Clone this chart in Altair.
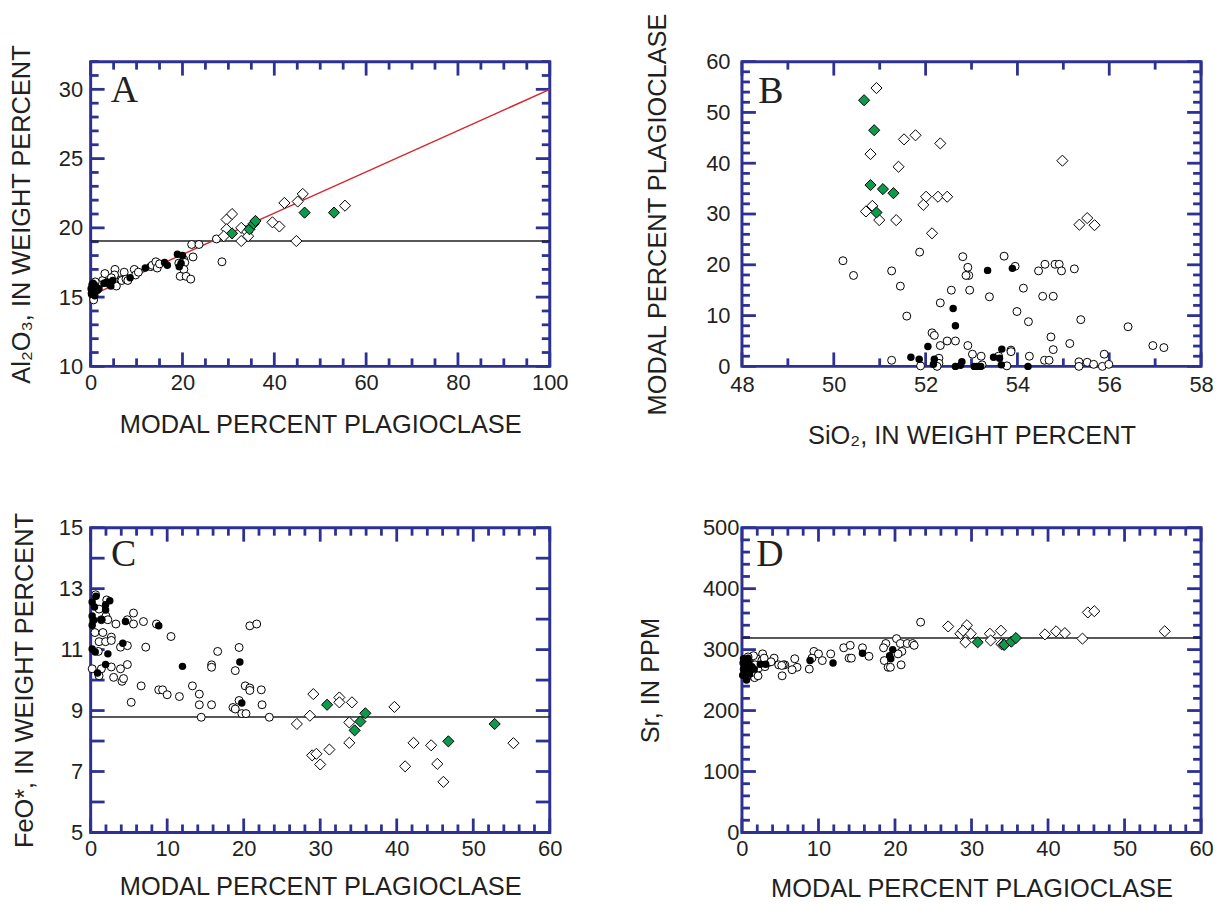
import altair as alt
import pandas as pd

NAVY = "#2e3192"
GREEN = "#0e9a4c"
W, H = 461, 306
MAJ, MIN = 14, 8

# ---------------- Panel A: Al2O3 vs modal plagioclase ----------------
A_open = [(0.65, 14.8), (0.3, 15.3), (1.2, 15.6), (2.6, 16.2), (3.1, 16.7), (5.3, 17.0), (5.2, 16.6),
          (5.6, 15.8), (6.6, 16.25), (6.8, 16.2), (7.3, 16.8), (7.7, 16.3), (8.1, 16.2), (9.5, 17.0),
          (9.8, 16.6), (10.4, 16.8), (13.1, 17.2), (13.4, 17.3), (14.2, 17.55), (14.5, 17.1), (15.0, 17.4),
          (20.3, 17.7), (20.5, 17.5), (20.3, 17.0), (19.2, 17.45), (19.5, 16.5), (20.8, 16.5), (21.8, 16.3),
          (22.3, 17.9), (22.0, 18.8), (23.6, 18.8), (27.4, 19.2), (28.6, 17.55), (1.8, 15.9), (1.0, 16.1),
          (3.8, 16.0), (4.5, 16.4)]
A_filled = [(0.2, 15.2), (0.4, 15.5), (0.6, 15.8), (0.8, 15.9), (1.0, 15.4), (1.3, 15.7), (0.3, 15.9),
            (0.5, 16.0), (1.5, 15.5), (0.1, 15.6), (0.9, 15.1), (1.8, 15.6), (2.9, 16.0), (4.1, 15.95),
            (4.4, 15.8), (4.8, 16.2), (3.5, 16.1), (8.6, 16.4), (11.9, 17.1), (16.1, 17.5), (16.7, 17.3),
            (18.9, 18.1), (20.0, 18.0), (19.3, 17.2), (19.7, 17.45)]
A_diamond = [(29.6, 20.6), (30.8, 21.0), (29.6, 19.9), (29.0, 19.4), (32.8, 19.05), (32.8, 20.0), (34.1, 19.7),
             (34.3, 19.4), (39.6, 20.4), (41.1, 20.1), (42.2, 21.8), (45.1, 21.9), (46.2, 22.45), (44.8, 19.05),
             (55.4, 21.6)]
A_green = [(30.8, 19.6), (34.6, 19.9), (35.5, 20.3), (35.9, 20.5), (46.6, 21.1), (53.0, 21.1)]
A_mix_line = [(0, 15.1), (100, 30.0)]
A_ref = [19.05]

# ---------------- Panel B: modal plagioclase vs SiO2 ----------------
B_open = [(50.20, 20.8), (50.43, 17.9), (51.26, 18.8), (51.45, 15.8), (51.87, 22.5), (51.59, 9.9), (52.32, 12.5),
          (52.56, 15.0), (52.81, 21.6), (52.92, 19.5), (52.94, 17.9), (52.88, 17.9), (52.96, 15.0), (52.14, 6.6),
          (52.19, 6.1), (52.47, 5.0), (52.65, 5.0), (52.32, 4.1), (52.92, 4.1), (51.26, 1.2), (51.89, 0.1),
          (52.29, 1.6), (52.29, 0.6), (52.25, 0.0), (53.02, 2.4), (53.21, 2.0), (53.86, 3.2), (53.86, 2.9),
          (53.23, 0.3), (53.59, 2.0), (53.77, 0.1), (54.26, 2.0), (54.13, 15.4), (53.39, 13.7), (53.99, 10.8),
          (54.24, 8.8), (53.71, 21.7), (53.95, 19.7), (54.46, 18.8), (54.6, 20.1), (54.82, 20.1), (54.91, 20.1),
          (54.96, 18.8), (55.24, 19.2), (54.55, 13.8), (54.78, 13.8), (55.38, 9.2), (56.41, 7.8), (54.73, 5.8),
          (55.14, 4.5), (54.78, 3.3), (56.95, 4.1), (57.19, 3.7), (54.59, 1.2), (54.69, 1.2), (55.34, 0.9),
          (55.34, 0.0), (55.52, 0.8), (55.66, 0.4), (55.85, 0.0), (55.89, 2.4), (55.99, 0.4)]
B_filled = [(52.6, 11.4), (52.65, 8.0), (52.05, 3.9), (51.68, 1.8), (51.86, 1.4), (52.19, 1.4), (52.17, 0.4),
            (52.65, 0.0), (52.79, 0.9), (52.76, 0.2), (53.06, 0.0), (53.12, 0.0), (53.2, 0.0), (53.66, 3.4),
            (53.48, 1.8), (53.61, 1.6), (53.65, 0.3), (54.23, 0.0), (53.35, 18.9), (53.89, 19.3)]
B_diamond = [(50.93, 54.8), (51.53, 44.7), (51.78, 45.5), (52.32, 43.9), (50.80, 41.8), (51.41, 39.3),
             (52.01, 33.4), (52.27, 33.4), (52.47, 33.4), (51.95, 31.8), (50.84, 31.6), (50.70, 30.5),
             (50.99, 28.8), (51.36, 28.8), (52.14, 26.2), (54.98, 40.5), (55.35, 27.9), (55.52, 29.2),
             (55.68, 27.8)]
B_green = [(50.66, 52.4), (50.88, 46.5), (50.80, 35.7), (51.07, 34.9), (51.30, 34.1), (50.93, 30.3)]

# ---------------- Panel C: FeO* vs modal plagioclase ----------------
C_open = [(0.65, 12.8), (2.1, 12.63), (1.1, 12.33), (2.0, 12.1), (2.25, 11.98), (1.4, 11.98), (3.3, 11.84),
          (4.8, 11.98), (5.6, 12.2), (5.6, 11.84), (6.9, 11.92), (8.6, 11.84), (10.5, 11.43), (0.56, 11.56),
          (1.6, 11.56), (1.1, 11.26), (1.95, 11.26), (2.7, 11.41), (2.7, 11.3), (3.9, 11.08), (4.8, 11.13),
          (7.2, 11.08), (1.0, 10.94), (0.2, 10.37), (1.4, 10.37), (2.7, 10.43), (3.9, 10.37), (4.8, 10.51),
          (1.1, 10.14), (3.0, 10.09), (4.1, 9.96), (4.3, 10.05), (6.6, 9.81), (5.3, 9.27), (8.9, 9.68),
          (9.4, 9.68), (10.0, 9.52), (11.6, 9.46), (13.3, 9.81), (14.2, 9.54), (14.2, 9.19), (14.45, 8.78),
          (15.8, 9.19), (15.8, 10.5), (15.8, 10.42), (16.6, 10.94), (18.9, 10.31), (19.4, 11.07), (20.8, 11.78),
          (21.7, 11.84), (20.2, 9.81), (20.8, 9.74), (20.8, 9.66), (22.3, 9.68), (22.4, 9.19), (19.4, 9.33),
          (18.6, 9.1), (18.9, 9.05), (19.75, 8.9), (20.3, 8.9), (23.35, 8.78)]
C_filled = [(0.7, 12.75), (0.2, 12.56), (0.5, 12.4), (1.95, 12.47), (1.95, 12.3), (2.5, 12.6), (0.2, 12.1),
            (0.4, 11.96), (1.4, 11.98), (0.2, 11.8), (4.55, 11.92), (8.9, 11.78), (4.2, 11.21), (0.2, 11.02),
            (0.6, 10.92), (2.25, 10.86), (1.95, 10.51), (0.9, 10.23), (12.0, 10.45), (19.5, 10.59),
            (19.75, 9.25)]
C_diamond = [(29.1, 9.54), (28.65, 8.83), (26.95, 8.56), (31.2, 7.72), (28.95, 7.53), (29.5, 7.58), (30.0, 7.23),
             (32.5, 9.43), (32.5, 9.27), (34.15, 9.27), (33.8, 8.61), (33.8, 7.94), (39.7, 9.12), (42.2, 7.94),
             (44.5, 7.86), (41.1, 7.17), (45.3, 7.25), (46.1, 6.66), (55.25, 7.93)]
C_green = [(30.9, 9.19), (35.9, 8.91), (35.25, 8.64), (34.5, 8.35), (46.75, 7.99), (52.8, 8.56)]
C_ref = [8.79]

# ---------------- Panel D: Sr vs modal plagioclase ----------------
D_open = [(23.35, 345), (20.2, 318), (20.7, 310), (21.6, 310), (22.3, 310), (22.5, 307), (18.8, 310), (18.5, 303),
          (20.9, 297), (20.4, 293), (18.6, 282), (19.1, 271), (19.4, 271), (20.8, 275), (15.75, 303), (16.6, 289),
          (13.3, 303), (14.15, 307), (14.0, 286), (14.3, 286), (11.6, 293), (9.4, 297), (10.0, 293), (9.15, 286),
          (10.5, 282), (8.8, 268), (6.9, 285), (7.2, 271), (6.55, 267), (5.25, 257), (5.6, 275), (5.4, 275),
          (4.2, 286), (2.7, 293), (1.9, 285), (2.6, 282), (3.5, 279), (4.8, 275), (5.2, 274), (1.65, 254),
          (2.1, 257), (0.65, 255), (0.3, 268), (1.0, 278), (1.5, 290), (0.8, 288), (2.2, 270), (3.0, 272),
          (1.2, 262), (0.5, 282), (3.8, 280), (2.9, 286), (1.7, 275)]
D_filled = [(8.9, 282), (11.9, 278), (15.75, 294), (19.7, 300), (19.45, 285), (19.3, 290), (0.1, 258), (0.2, 268),
            (0.3, 275), (0.4, 283), (0.5, 262), (0.7, 270), (0.9, 278), (1.1, 266), (0.2, 285), (1.3, 272),
            (0.6, 250), (0.15, 278), (1.0, 260), (1.6, 268), (2.4, 276), (3.1, 276), (0.8, 286)]
D_diamond = [(26.95, 338), (29.4, 340), (28.55, 326), (29.9, 326), (29.2, 312), (32.4, 326), (32.5, 315),
             (33.85, 331), (33.9, 309), (34.2, 308), (39.6, 325), (41.05, 330), (42.2, 327), (44.5, 318),
             (45.2, 361), (46.05, 363), (55.25, 330), (28.9, 331)]
D_green = [(30.8, 312), (34.3, 308), (35.2, 313), (35.8, 319)]
D_ref = [319]

# tick label values
A_xlab = [0, 20, 40, 60, 80, 100]
A_ylab = [10, 15, 20, 25, 30]
B_xlab = [48, 50, 52, 54, 56, 58]
B_ylab = [0, 10, 20, 30, 40, 50, 60]
C_xlab = [0, 10, 20, 30, 40, 50, 60]
C_ylab = [5, 7, 9, 11, 13, 15]
D_xlab = [0, 10, 20, 30, 40, 50, 60]
D_ylab = [0, 100, 200, 300, 400, 500]


def df(lst):
    return pd.DataFrame(lst, columns=["x", "y"])


def panel(cfg):
    xs = alt.Scale(domain=cfg["xdom"], nice=False, zero=False)
    ys = alt.Scale(domain=cfg["ydom"], nice=False, zero=False)
    xaxis = alt.Axis(values=cfg["xlab"], title=cfg["xtitle"], ticks=False, tickSize=0, domain=False, grid=False,
                     labelPadding=cfg["xlp"], titlePadding=cfg["xtp"], labelFlush=False)
    yaxis = alt.Axis(values=cfg["ylab"], title=cfg["ytitle"], ticks=False, tickSize=0, domain=False, grid=False,
                     labelPadding=cfg["ylp"], titlePadding=cfg["ytp"], labelFlush=False)

    def X():
        return alt.X("x:Q", scale=xs, axis=xaxis)

    def Y():
        return alt.Y("y:Q", scale=ys, axis=yaxis)

    layers = []
    for vals, L in ((cfg["xmaj"], MAJ), (cfg["xmin"], MIN)):
        if not vals:
            continue
        d = pd.DataFrame({"x": vals})
        tk = dict(color=NAVY, thickness=2.8, size=L, opacity=1, orient="vertical")
        layers.append(alt.Chart(d).mark_tick(**tk).encode(x=X(), y=alt.value(H - L / 2)))
        layers.append(alt.Chart(d).mark_tick(**tk).encode(x=X(), y=alt.value(L / 2)))
    for vals, L in ((cfg["ymaj"], MAJ), (cfg["ymin"], MIN)):
        if not vals:
            continue
        d = pd.DataFrame({"y": vals})
        tk = dict(color=NAVY, thickness=2.8, size=L, opacity=1, orient="horizontal")
        layers.append(alt.Chart(d).mark_tick(**tk).encode(y=Y(), x=alt.value(L / 2)))
        layers.append(alt.Chart(d).mark_tick(**tk).encode(y=Y(), x=alt.value(W - L / 2)))
    if cfg.get("ref"):
        d = pd.DataFrame({"y": cfg["ref"]})
        layers.append(alt.Chart(d).mark_rule(color="#231f20", strokeWidth=1.6).encode(y=Y()))
    if cfg.get("line"):
        layers.append(alt.Chart(df(cfg["line"])).mark_line(color="#d7262b", strokeWidth=1.4).encode(x=X(), y=Y()))
    layers.append(alt.Chart(df(cfg["open"])).mark_point(shape="circle", filled=True, fill="white", stroke="black",
                                                        strokeWidth=1, size=64, opacity=1).encode(x=X(), y=Y()))
    layers.append(alt.Chart(df(cfg["filled"])).mark_circle(color="black", size=56, opacity=1).encode(x=X(), y=Y()))
    layers.append(alt.Chart(df(cfg["diamond"])).mark_point(shape="diamond", filled=True, fill="white", stroke="black",
                                                           strokeWidth=1, size=125, opacity=1).encode(x=X(), y=Y()))
    layers.append(alt.Chart(df(cfg["green"])).mark_point(shape="diamond", filled=True, fill=GREEN, stroke="black",
                                                         strokeWidth=1, size=125, opacity=1).encode(x=X(), y=Y()))
    layers.append(alt.Chart(pd.DataFrame({"t": [cfg["letter"]]})).mark_text(
        font="Liberation Serif", fontSize=38, color="#231f20", align="center", baseline="middle").encode(
        text="t:N", x=alt.value(cfg["lx"]), y=alt.value(cfg["ly"])))
    return alt.layer(*layers).properties(width=W, height=H)


def rng(a, b, s):
    out = []
    v = a
    while v <= b + 1e-9:
        out.append(round(v, 6))
        v += s
    return out


pA = panel(dict(xdom=[0, 100], ydom=[10, 32], xlab=A_xlab, ylab=A_ylab,
                xtitle="MODAL PERCENT PLAGIOCLASE", ytitle="Al₂O₃, IN WEIGHT PERCENT",
                xmaj=rng(0, 100, 20), xmin=[v for v in rng(0, 100, 5) if v % 20],
                ymaj=rng(10, 30, 5), ymin=[v for v in rng(10, 32, 1) if v % 5],
                ref=A_ref, line=A_mix_line, open=A_open, filled=A_filled, diamond=A_diamond, green=A_green,
                letter="A", lx=34, ly=30, xlp=6, xtp=19, ylp=8, ytp=24))
pB = panel(dict(xdom=[48, 58], ydom=[0, 60], xlab=B_xlab, ylab=B_ylab,
                xtitle="SiO₂, IN WEIGHT PERCENT", ytitle="MODAL PERCENT PLAGIOCLASE",
                xmaj=rng(48, 58, 2), xmin=rng(49, 57, 2),
                ymaj=rng(0, 60, 10), ymin=[v for v in rng(0, 60, 2) if v % 10],
                open=B_open, filled=B_filled, diamond=B_diamond, green=B_green,
                letter="B", lx=29, ly=31, xlp=8, xtp=28, ylp=12, ytp=35))
pC = panel(dict(xdom=[0, 60], ydom=[5, 15], xlab=C_xlab, ylab=C_ylab,
                xtitle="MODAL PERCENT PLAGIOCLASE", ytitle="FeO*, IN WEIGHT PERCENT",
                xmaj=rng(0, 60, 10), xmin=[v for v in rng(0, 60, 2) if v % 10],
                ymaj=rng(5, 15, 1), ymin=[],
                ref=C_ref, open=C_open, filled=C_filled, diamond=C_diamond, green=C_green,
                letter="C", lx=33, ly=27, xlp=6, xtp=15, ylp=8, ytp=21))
pD = panel(dict(xdom=[0, 60], ydom=[0, 500], xlab=D_xlab, ylab=D_ylab,
                xtitle="MODAL PERCENT PLAGIOCLASE", ytitle="Sr, IN PPM",
                xmaj=rng(0, 60, 10), xmin=[v for v in rng(0, 60, 2) if v % 10],
                ymaj=rng(0, 500, 100), ymin=[v for v in rng(0, 500, 20) if v % 100],
                ref=D_ref, open=D_open, filled=D_filled, diamond=D_diamond, green=D_green,
                letter="D", lx=28, ly=27, xlp=6, xtp=17, ylp=3, ytp=39))

chart = alt.concat(pA, pB, pC, pD, columns=2, spacing={"row": 162, "column": 193}, bounds="flush").properties(
    padding={"left": 0, "top": 0, "right": 2, "bottom": 2}
).configure_view(stroke=NAVY, strokeWidth=3).configure_axis(
    labelFont="Liberation Sans", labelFontSize=22, labelColor="#231f20",
    titleFont="Liberation Sans", titleFontSize=25.5, titleFontWeight="normal", titleColor="#231f20"
)

chart.save("out.html", embed_options={"renderer": "svg", "actions": False})
